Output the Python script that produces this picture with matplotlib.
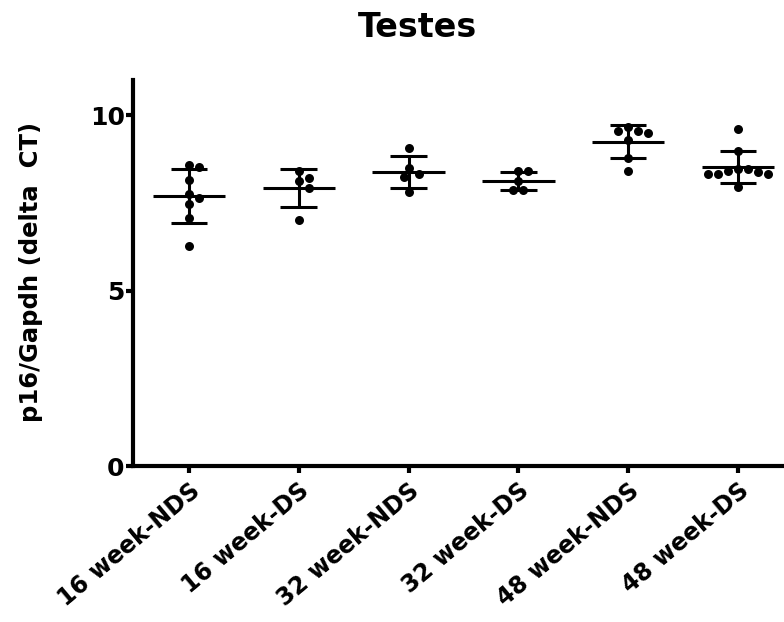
import numpy as np
import matplotlib.pyplot as plt

plt.rcParams["font.family"] = ["DejaVu Sans"]
plt.rcParams["font.weight"] = "bold"

# p16/Gapdh delta CT per animal, grouped by age and diet
groups = ["16 week-NDS", "16 week-DS", "32 week-NDS", "32 week-DS", "48 week-NDS", "48 week-DS"]
wk16_nds = [8.52, 8.59, 8.16, 7.75, 7.65, 7.48, 7.07, 6.28]
wk16_ds = [8.42, 8.20, 8.13, 7.92, 7.02]
wk32_nds = [9.07, 8.49, 8.33, 8.23, 7.81]
wk32_ds = [8.40, 8.40, 8.12, 7.87, 7.87]
wk48_nds = [9.67, 9.54, 9.50, 9.56, 9.31, 8.77, 8.42]
wk48_ds = [9.61, 8.99, 8.47, 8.38, 8.33, 8.33, 8.33, 8.40, 8.47, 7.95]
values = [wk16_nds, wk16_ds, wk32_nds, wk32_ds, wk48_nds, wk48_ds]


def swarm_offsets(y, px_per_y, px_per_x, diam=10.0):
    """Simple beeswarm: place points as close to the centre as possible."""
    y = np.asarray(y, dtype=float)
    order = np.argsort(-y)
    placed = []
    offs = np.zeros(len(y))
    for i in order:
        yp = y[i] * px_per_y
        for k in range(0, 40):
            cands = [0.0] if k == 0 else [k * diam / 2, -k * diam / 2]
            ok = None
            for c in cands:
                if all((c - px) ** 2 + (yp - py) ** 2 >= (diam * 0.95) ** 2 for px, py in placed):
                    ok = c
                    break
            if ok is not None:
                placed.append((ok, yp))
                offs[i] = ok / px_per_x
                break
    return offs


fig = plt.figure(figsize=(7.84, 6.22), dpi=100)
ax = fig.add_axes([0.1696, 0.2508, 0.8304, 0.6202])
ax.set_xlim(-0.51, 5.42)
ax.set_ylim(0, 11)

px_y = 35.2
px_x = 109.7
for i, vals in enumerate(values):
    vals = np.asarray(vals)
    offs = swarm_offsets(vals, px_y, px_x)
    ax.scatter(i + offs, vals, s=42, color="black", zorder=3, linewidths=0)
    m = vals.mean()
    sd = vals.std(ddof=1)
    ax.hlines(m, i - 0.33, i + 0.33, color="black", lw=2.2, zorder=2)
    ax.hlines([m - sd, m + sd], i - 0.167, i + 0.167, color="black", lw=2.2, zorder=2)
    ax.vlines(i, m - sd, m + sd, color="black", lw=2.2, zorder=2)

for side in ["top", "right"]:
    ax.spines[side].set_visible(False)
for side in ["left", "bottom"]:
    ax.spines[side].set_linewidth(3)

ax.set_yticks([0, 5, 10])
ax.set_yticklabels(["0", "5", "10"], fontsize=18, fontweight="bold")
ax.set_xticks(range(len(groups)))
ax.set_xticklabels(groups, rotation=40, ha="right", va="top",
                   rotation_mode="anchor", fontsize=17, fontweight="bold")
ax.tick_params(axis="both", length=5, width=3)
ax.tick_params(axis="y", pad=1)
ax.tick_params(axis="x", pad=4)

fig.text(31 / 784, 0.563, "p16/Gapdh (delta  CT)", rotation=90, ha="center", va="center",
         fontsize=17.5, fontweight="bold")
fig.text(0.532, 0.955, "Testes", ha="center", va="center", fontsize=24, fontweight="bold")

fig.savefig("out.png", dpi=100)
